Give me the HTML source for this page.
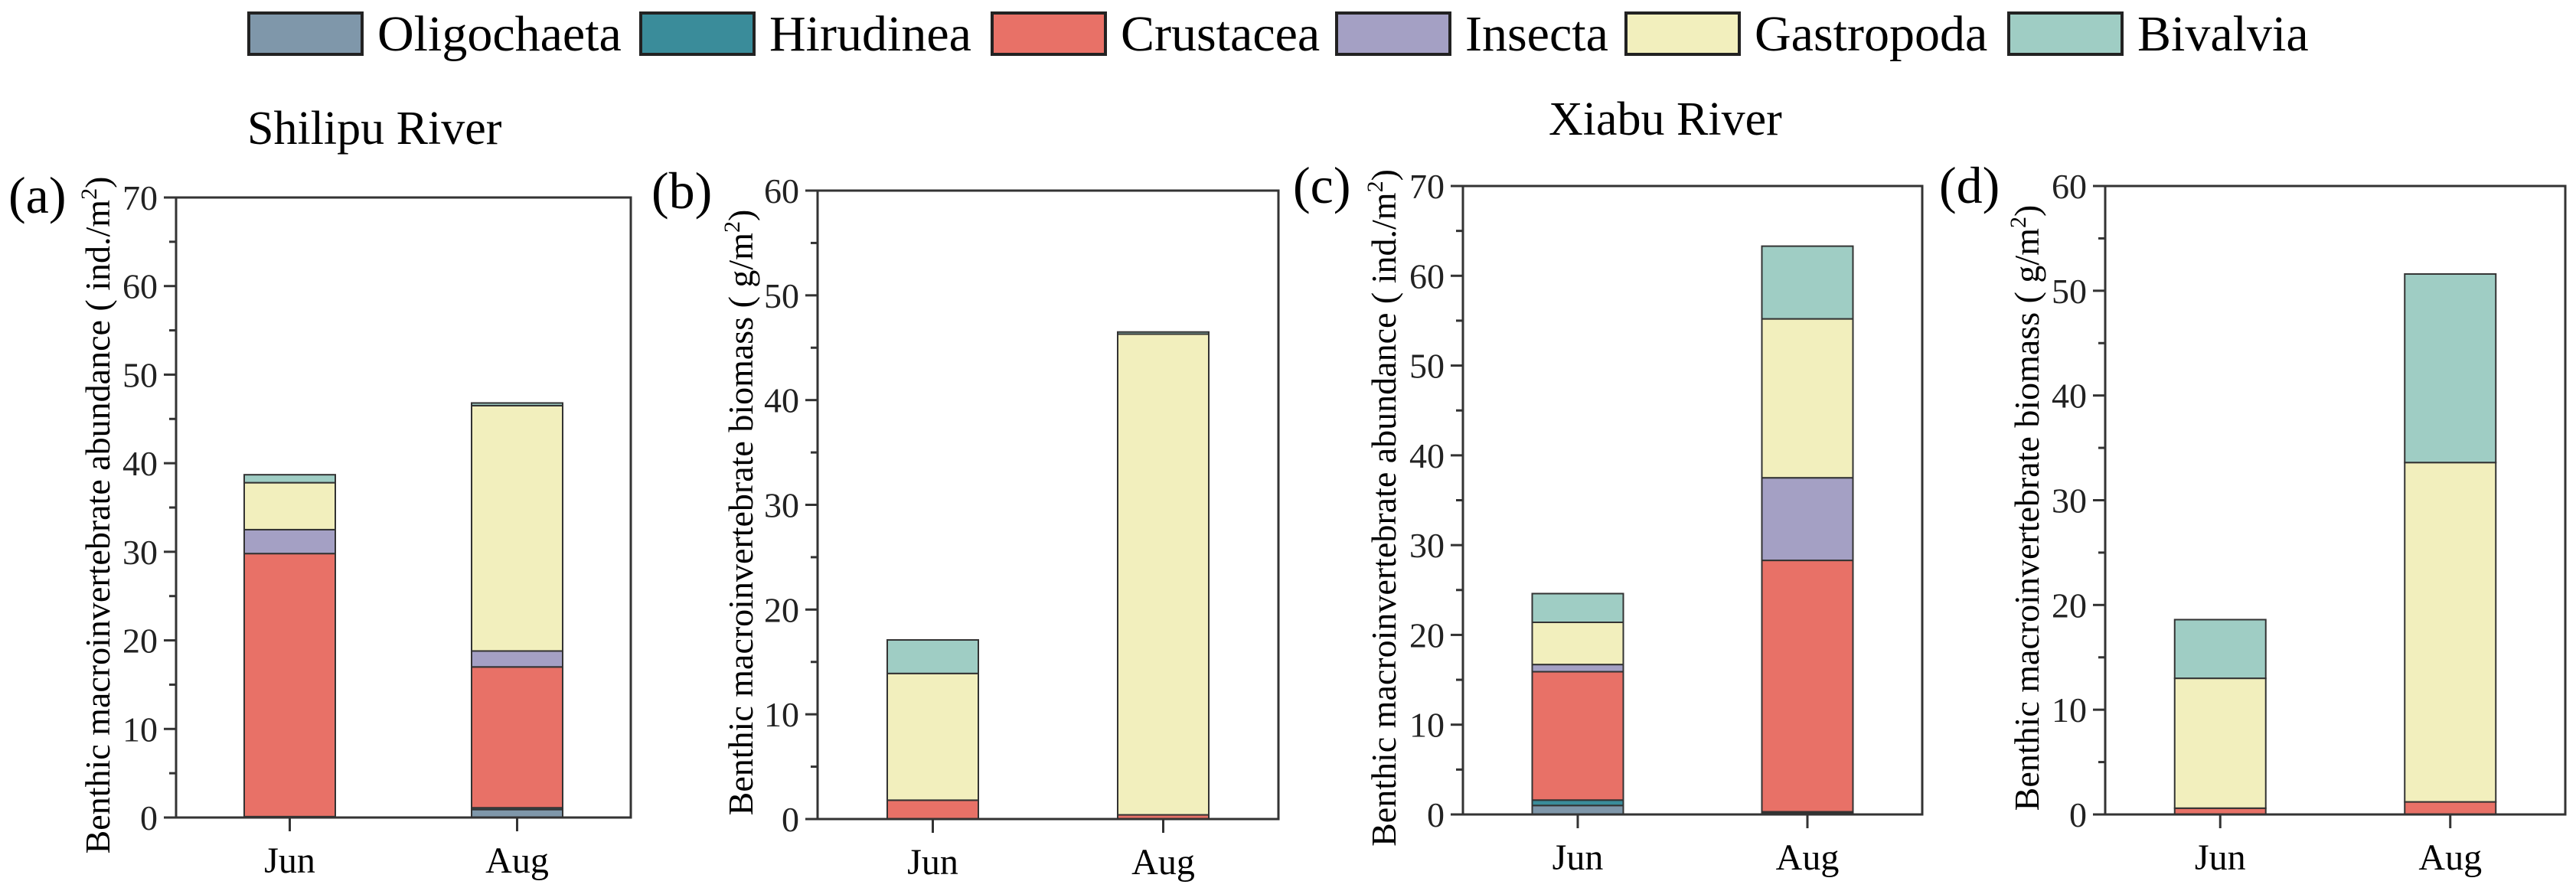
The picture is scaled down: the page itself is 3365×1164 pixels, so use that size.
<!DOCTYPE html>
<html><head><meta charset="utf-8">
<style>
html,body{margin:0;padding:0;background:#fff;}
svg{display:block;}
svg text{font-family:"Liberation Serif","DejaVu Serif",serif;}
</style></head>
<body>
<svg id="chart" width="3365" height="1164" viewBox="0 0 3365 1164" xmlns="http://www.w3.org/2000/svg">
<g id="legend"></g>
<text x="323" y="188" font-size="62" font-family="Liberation Serif, serif">Shilipu River</text>
<text x="2023" y="176" font-size="62" font-family="Liberation Serif, serif">Xiabu River</text>
<g id="panels"></g>
</svg>
<script>
const species = ["Oligochaeta","Hirudinea","Crustacea","Insecta","Gastropoda","Bivalvia"];
const colors = ["#7f97aa","#3a8c9a","#e87167","#a4a0c4","#f2efbd","#9fcdc4"];
const categories = ["Jun","Aug"];
const aVals = [[0.1,0.9],[0,0.2],[29.7,15.9],[2.7,1.8],[5.3,27.7],[0.9,0.3]];
const bVals = [[0,0],[0,0],[1.8,0.4],[0,0],[12.1,45.9],[3.2,0.2]];
const cVals = [[1.0,0.15],[0.6,0.15],[14.3,28.0],[0.8,9.2],[4.7,17.7],[3.2,8.1]];
const dVals = [[0,0],[0,0],[0.6,1.2],[0,0],[12.4,32.4],[5.6,18.0]];
const yMaxes = [70,60,70,60];
const letters = ["(a)","(b)","(c)","(d)"];
const yTitles = ["Benthic macroinvertebrate abundance ( ind./m","Benthic macroinvertebrate biomass ( g/m","Benthic macroinvertebrate abundance ( ind./m","Benthic macroinvertebrate biomass ( g/m"];
const NS="http://www.w3.org/2000/svg";
const FF="Liberation Serif, serif";
function el(tag, attrs, parent){const e=document.createElementNS(NS,tag);for(const k in attrs)e.setAttribute(k,attrs[k]);if(tag==='text')e.setAttribute('font-family',FF);parent.appendChild(e);return e;}

const lg=document.getElementById('legend');
const legBoxX=[325,837,1296,1746,2124,2624];
species.forEach((s,i)=>{
  const r=el('rect',{x:legBoxX[i],y:17,width:148,height:54,fill:colors[i],stroke:'#222','stroke-width':4},lg);
  
  
  const t=el('text',{x:legBoxX[i]+168,y:66,'font-size':66},lg);
  t.textContent=s;
  
  
});

const panelsData=[aVals,bVals,cVals,dVals];
const boxes=[
 {l:230,r:824,t:258,b:1068,letterX:11,letterY:278,titleX:128},
 {l:1068,r:1670,t:249,b:1070,letterX:851,letterY:272,titleX:968},
 {l:1911,r:2511,t:243,b:1064,letterX:1689,letterY:265,titleX:1808},
 {l:2750,r:3351,t:243,b:1064,letterX:2533,letterY:265,titleX:2648}
];
const pg=document.getElementById('panels');
boxes.forEach((B,p)=>{
  const g=el('g',{},pg);
  
  
  const yMax=yMaxes[p];
  const y=v=>B.b-(v/yMax)*(B.b-B.t);
  const xc=i=>B.l+(B.r-B.l)*(i*2+1)/4;
  const bw=119;
  const vals=panelsData[p];
  categories.forEach((c,ci)=>{
    let base=0;
    species.forEach((s,si)=>{
      const v=vals[si][ci];
      if(v<=0)return;
      const r=el('rect',{x:xc(ci)-bw/2,y:y(base+v),width:bw,height:y(base)-y(base+v),fill:colors[si],stroke:'#333','stroke-width':2},g);
      
      
      base+=v;
    });
    const tk=el('line',{x1:xc(ci),x2:xc(ci),y1:B.b,y2:B.b+18,stroke:'#333','stroke-width':3},g);
    
    
    const tl=el('text',{x:xc(ci),y:B.b+72,'font-size':48,'text-anchor':'middle'},g);
    tl.textContent=c;
    
    
  });
  for(let v=0;v<=yMax;v+=5){
    const major=v%10===0;
    const tk=el('line',{x1:B.l-(major?16:9),x2:B.l,y1:y(v),y2:y(v),stroke:'#333','stroke-width':3},g);
    
    
    if(major){
      const t=el('text',{x:B.l-24,y:y(v)+16,'font-size':46,'text-anchor':'end',fill:'#222'},g);
      t.textContent=v;
      
      
    }
  }
  const fr=el('rect',{x:B.l,y:B.t,width:B.r-B.l,height:B.b-B.t,fill:'none',stroke:'#333','stroke-width':3},g);
  
  
  const lt=el('text',{x:B.letterX,y:B.letterY,'font-size':68},g);
  lt.textContent=letters[p];
  
  
  const cy=(B.t+B.b)/2+10;
  const yt=el('text',{x:B.titleX,y:cy,'font-size':46,'text-anchor':'middle',transform:`rotate(-90 ${B.titleX} ${cy})`,dy:15},g);
  
  
  yt.appendChild(document.createTextNode(yTitles[p]));
  const sup=el('tspan',{'font-size':30,dy:-17},yt);
  sup.textContent='2';
  const cl=el('tspan',{dy:17},yt);
  cl.textContent=')';
});
</script>
</body></html>
